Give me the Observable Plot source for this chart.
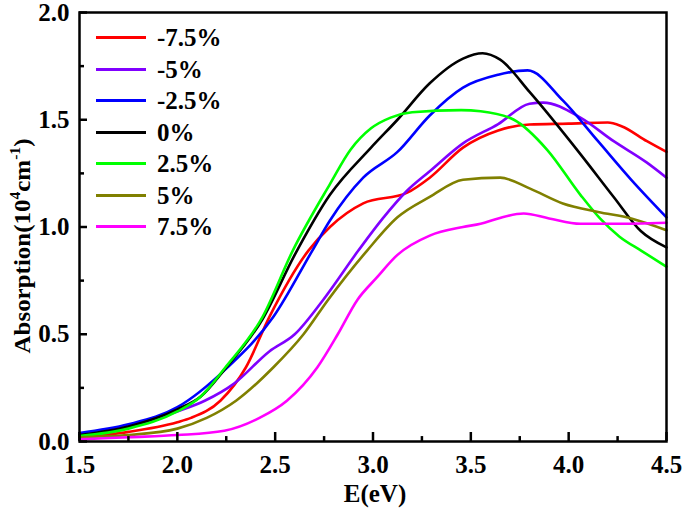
<!DOCTYPE html>
<html>
<head>
<meta charset="utf-8">
<script src="https://cdn.jsdelivr.net/npm/d3@7"></script>
<script src="https://cdn.jsdelivr.net/npm/@observablehq/plot@0.6"></script>
<style>
  html, body { margin: 0; padding: 0; background: #fff; }
  #wrap { position: relative; width: 685px; height: 509px; font-family: "Liberation Serif", "Times New Roman", serif; font-weight: bold; }
  #legend { position: absolute; left: 96px; top: 22px; }
  .lg { position: relative; height: 31.5px; display: flex; align-items: center; }
  .lg .sw { width: 50px; height: 3px; margin-right: 11px; }
  .lg .tx { font-size: 25px; line-height: 1; }
  #ytitle { position: absolute; left: 22px; top: 246px; transform: translate(-50%, -50%) rotate(-90deg) scaleX(1.04); font-size: 24px; white-space: nowrap; }
  #xtitle { position: absolute; left: 375px; top: 494px; transform: translate(-50%, -50%); font-size: 25px; white-space: nowrap; }
  sup { font-size: 15px; vertical-align: 10px; line-height: 0; }
</style>
</head>
<body>
<div id="wrap">
  <div id="chart"></div>
  <div id="legend"></div>
  <div id="ytitle">Absorption(10<sup>4</sup>cm<sup>-1</sup>)</div>
  <div id="xtitle">E(eV)</div>
</div>
<script>
// Series labels and colours
const seriesNames = ["-7.5%", "-5%", "-2.5%", "0%", "2.5%", "5%", "7.5%"];
const seriesColors = ["#ff0000", "#8000ff", "#0000ff", "#000000", "#00ff00", "#808000", "#ff00ff"];

// Axis ticks
const xMajor = [1.5, 2.0, 2.5, 3.0, 3.5, 4.0, 4.5];
const xMinor = [1.75, 2.25, 2.75, 3.25, 3.75, 4.25];
const yMajor = [0, 0.5, 1.0, 1.5, 2.0];
const yMinor = [0.25, 0.75, 1.25, 1.75];

// -7.5%
const eM75 = [1.5, 1.75, 2.0, 2.07, 2.22, 2.35, 2.47, 2.67, 2.78, 2.95, 3.175, 3.29, 3.46, 3.64, 3.8, 4.0, 4.2, 4.27, 4.4, 4.5];
const aM75 = [0.02, 0.045, 0.09, 0.11, 0.19, 0.345, 0.58, 0.89, 1.0, 1.11, 1.16, 1.23, 1.37, 1.45, 1.478, 1.482, 1.487, 1.47, 1.40, 1.35];
// -5%
const eM5 = [1.5, 1.75, 2.0, 2.14, 2.29, 2.47, 2.6, 2.745, 2.925, 3.05, 3.175, 3.29, 3.46, 3.64, 3.8, 3.87, 4.06, 4.23, 4.4, 4.5];
const aM5 = [0.03, 0.07, 0.14, 0.19, 0.27, 0.42, 0.50, 0.66, 0.89, 1.04, 1.17, 1.26, 1.39, 1.48, 1.575, 1.58, 1.51, 1.40, 1.30, 1.23];
// -2.5%
const eM25 = [1.5, 1.75, 2.0, 2.25, 2.49, 2.69, 2.78, 2.95, 3.125, 3.29, 3.46, 3.64, 3.79, 3.97, 4.15, 4.32, 4.5];
const aM25 = [0.04, 0.08, 0.16, 0.34, 0.58, 0.89, 1.03, 1.23, 1.35, 1.52, 1.65, 1.71, 1.73, 1.59, 1.40, 1.22, 1.045];
// 0%
const eP0 = [1.5, 1.75, 2.0, 2.12, 2.245, 2.435, 2.6, 2.78, 2.99, 3.125, 3.29, 3.46, 3.56, 3.65, 3.8, 4.06, 4.23, 4.37, 4.5];
const aP0 = [0.03, 0.07, 0.15, 0.21, 0.34, 0.57, 0.87, 1.15, 1.37, 1.50, 1.67, 1.785, 1.81, 1.78, 1.63, 1.34, 1.14, 0.98, 0.905];
// 2.5%
const eP25 = [1.5, 1.75, 2.0, 2.12, 2.245, 2.435, 2.59, 2.78, 2.885, 2.99, 3.09, 3.2, 3.45, 3.55, 3.72, 3.89, 4.06, 4.16, 4.26, 4.37, 4.5];
const aP25 = [0.025, 0.06, 0.14, 0.21, 0.345, 0.58, 0.89, 1.20, 1.36, 1.46, 1.51, 1.535, 1.545, 1.54, 1.50, 1.36, 1.15, 1.04, 0.955, 0.89, 0.815];
// 5%
const eP5 = [1.5, 1.75, 2.0, 2.15, 2.3, 2.49, 2.645, 2.77, 2.97, 3.125, 3.29, 3.46, 3.65, 3.8, 3.97, 4.15, 4.32, 4.5];
const aP5 = [0.02, 0.03, 0.06, 0.11, 0.19, 0.345, 0.50, 0.66, 0.89, 1.045, 1.14, 1.22, 1.23, 1.18, 1.11, 1.07, 1.04, 0.985];
// 7.5%
const eP75 = [1.5, 1.75, 2.0, 2.24, 2.42, 2.56, 2.715, 2.82, 2.92, 3.02, 3.125, 3.29, 3.46, 3.55, 3.64, 3.77, 3.9, 4.06, 4.23, 4.5];
const aP75 = [0.01, 0.02, 0.03, 0.05, 0.11, 0.19, 0.345, 0.50, 0.66, 0.765, 0.87, 0.96, 1.0, 1.015, 1.04, 1.063, 1.04, 1.015, 1.015, 1.02];

const energies = [eM75, eM5, eM25, eP0, eP25, eP5, eP75];
const absorbs = [aM75, aM5, aM25, aP0, aP25, aP5, aP75];

const rows = [];
seriesNames.forEach((name, i) => {
  energies[i].forEach((e, j) => rows.push({series: name, E: e, A: absorbs[i][j]}));
});

const fmt = d3.format(".1f");
const chart = Plot.plot({
  width: 685,
  height: 509,
  marginLeft: 79,
  marginRight: 19,
  marginTop: 12,
  marginBottom: 68,
  style: {fontFamily: "'Liberation Serif', 'Times New Roman', serif", fontWeight: "bold", fontSize: "24px", background: "#fff", color: "#000"},
  x: {domain: [1.5, 4.5]},
  y: {domain: [0, 2.0]},
  color: {domain: seriesNames, range: seriesColors},
  marks: [
    Plot.line(rows, {x: "E", y: "A", z: "series", stroke: "series", strokeWidth: 2.6, curve: "monotone-x"}),
    Plot.ruleX(xMajor, {x: d => d, y1: 0, y2: 0.042, stroke: "#000", strokeWidth: 2.5}),
    Plot.ruleX(xMinor, {x: d => d, y1: 0, y2: 0.023, stroke: "#000", strokeWidth: 2.5}),
    Plot.ruleY(yMajor, {y: d => d, x1: 1.5, x2: 1.5 + 8 / 195.7, stroke: "#000", strokeWidth: 2.5}),
    Plot.ruleY(yMinor, {y: d => d, x1: 1.5, x2: 1.5 + 5 / 195.7, stroke: "#000", strokeWidth: 2.5}),
    Plot.frame({stroke: "#000", strokeWidth: 2.5}),
    Plot.axisX({ticks: xMajor, tickSize: 0, tickPadding: 14, tickFormat: fmt, label: null, fontSize: 25}),
    Plot.axisY({ticks: yMajor, tickSize: 0, tickPadding: 10, tickFormat: fmt, label: null, fontSize: 25})
  ]
});
document.getElementById("chart").appendChild(chart);

const legend = document.getElementById("legend");
seriesNames.forEach((name, i) => {
  const row = document.createElement("div");
  row.className = "lg";
  row.innerHTML = `<div class="sw" style="background:${seriesColors[i]}"></div><div class="tx">${name}</div>`;
  legend.appendChild(row);
});
</script>
</body>
</html>
